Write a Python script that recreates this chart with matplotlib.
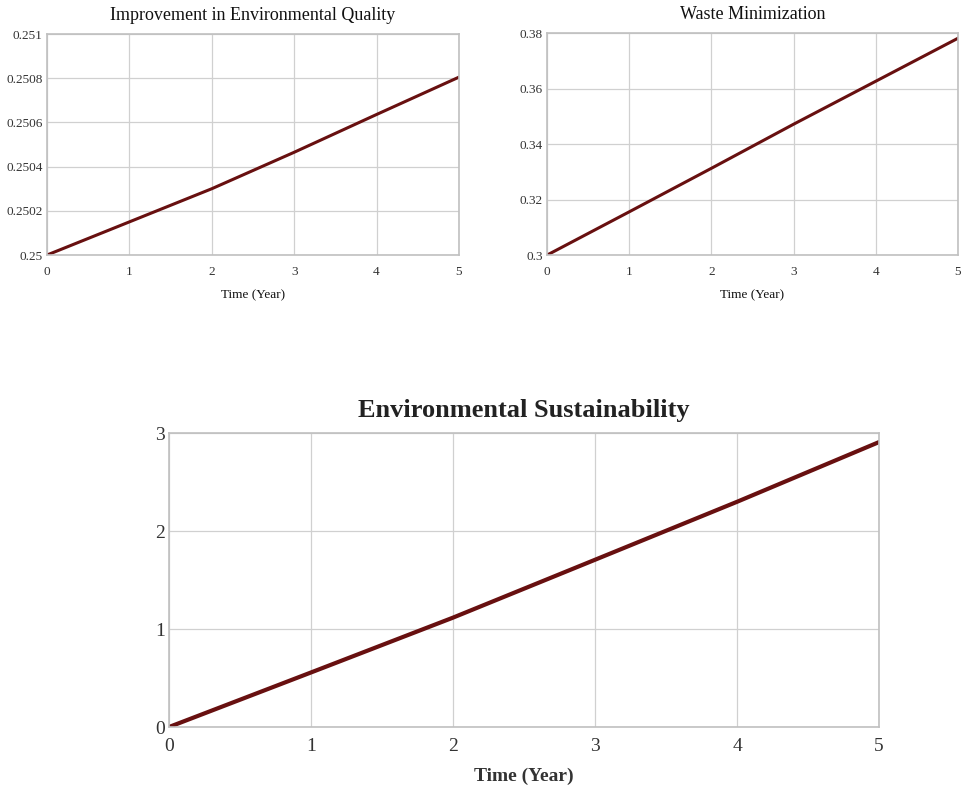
import matplotlib
matplotlib.use("Agg")
import matplotlib.pyplot as plt
from matplotlib.ticker import FuncFormatter

plt.rcParams['font.family'] = ['Liberation Serif', 'DejaVu Serif']

years = [0, 1, 2, 3, 4, 5]
env_quality = [0.25, 0.25015, 0.25030, 0.250465, 0.250636, 0.250805]
waste_min = [0.30, 0.3156, 0.3313, 0.3472, 0.3627, 0.3782]
env_sust = [0.0, 0.557, 1.117, 1.708, 2.30, 2.91]

eq_ticks = [0.25, 0.2502, 0.2504, 0.2506, 0.2508, 0.251]
wm_ticks = [0.3, 0.32, 0.34, 0.36, 0.38]
es_ticks = [0, 1, 2, 3]

line_color = '#681010'
grid_color = '#d0d0d0'
spine_color = '#c0c0c0'
text_color = '#333333'

fig = plt.figure(figsize=(9.65, 7.92), dpi=100)


def style(ax, fs_tick, xpad, xticks, yticks, fmt):
    ax.set_xlim(0, 5)
    ax.set_xticks(xticks)
    ax.set_yticks(yticks)
    ax.yaxis.set_major_formatter(FuncFormatter(fmt))
    ax.grid(True, color=grid_color, linewidth=0.9)
    ax.set_axisbelow(True)
    for s in ax.spines.values():
        s.set_color(spine_color)
        s.set_linewidth(1.2)
    ax.tick_params(length=0, labelsize=fs_tick, colors=text_color)
    ax.tick_params(axis='x', pad=xpad)
    ax.tick_params(axis='y', pad=3)


def gfmt(v, pos):
    return ('%.4f' % v).rstrip('0').rstrip('.')


ax1 = fig.add_axes([0.0487, 0.678, 0.4269, 0.279])
ax1.plot(years, env_quality, color=line_color, linewidth=2.2)
ax1.set_ylim(0.25, 0.251)
style(ax1, 9.5, 8, years, eq_ticks, gfmt)
ax1.set_title('Improvement in Environmental Quality', fontsize=13, color='#111111', pad=10)
ax1.set_xlabel('Time (Year)', fontsize=9.5, color='#111111', labelpad=8)

ax2 = fig.add_axes([0.567, 0.678, 0.4257, 0.280])
ax2.plot(years, waste_min, color=line_color, linewidth=2.2)
ax2.set_ylim(0.3, 0.38)
style(ax2, 9.5, 8, years, wm_ticks, gfmt)
ax2.set_title('Waste Minimization', fontsize=13, color='#111111', pad=10)
ax2.set_xlabel('Time (Year)', fontsize=9.5, color='#111111', labelpad=8)

ax3 = fig.add_axes([0.175, 0.082, 0.736, 0.371])
ax3.plot(years, env_sust, color=line_color, linewidth=3)
ax3.set_ylim(0, 3)
style(ax3, 14, 8, years, es_ticks, lambda v, p: '%d' % v)
ax3.set_title('Environmental Sustainability', fontsize=19, color='#222222', pad=12, fontweight='bold')
ax3.set_xlabel('Time (Year)', fontsize=14, color='#333333', labelpad=9, fontweight='bold')

fig.savefig('out.png', dpi=100)
